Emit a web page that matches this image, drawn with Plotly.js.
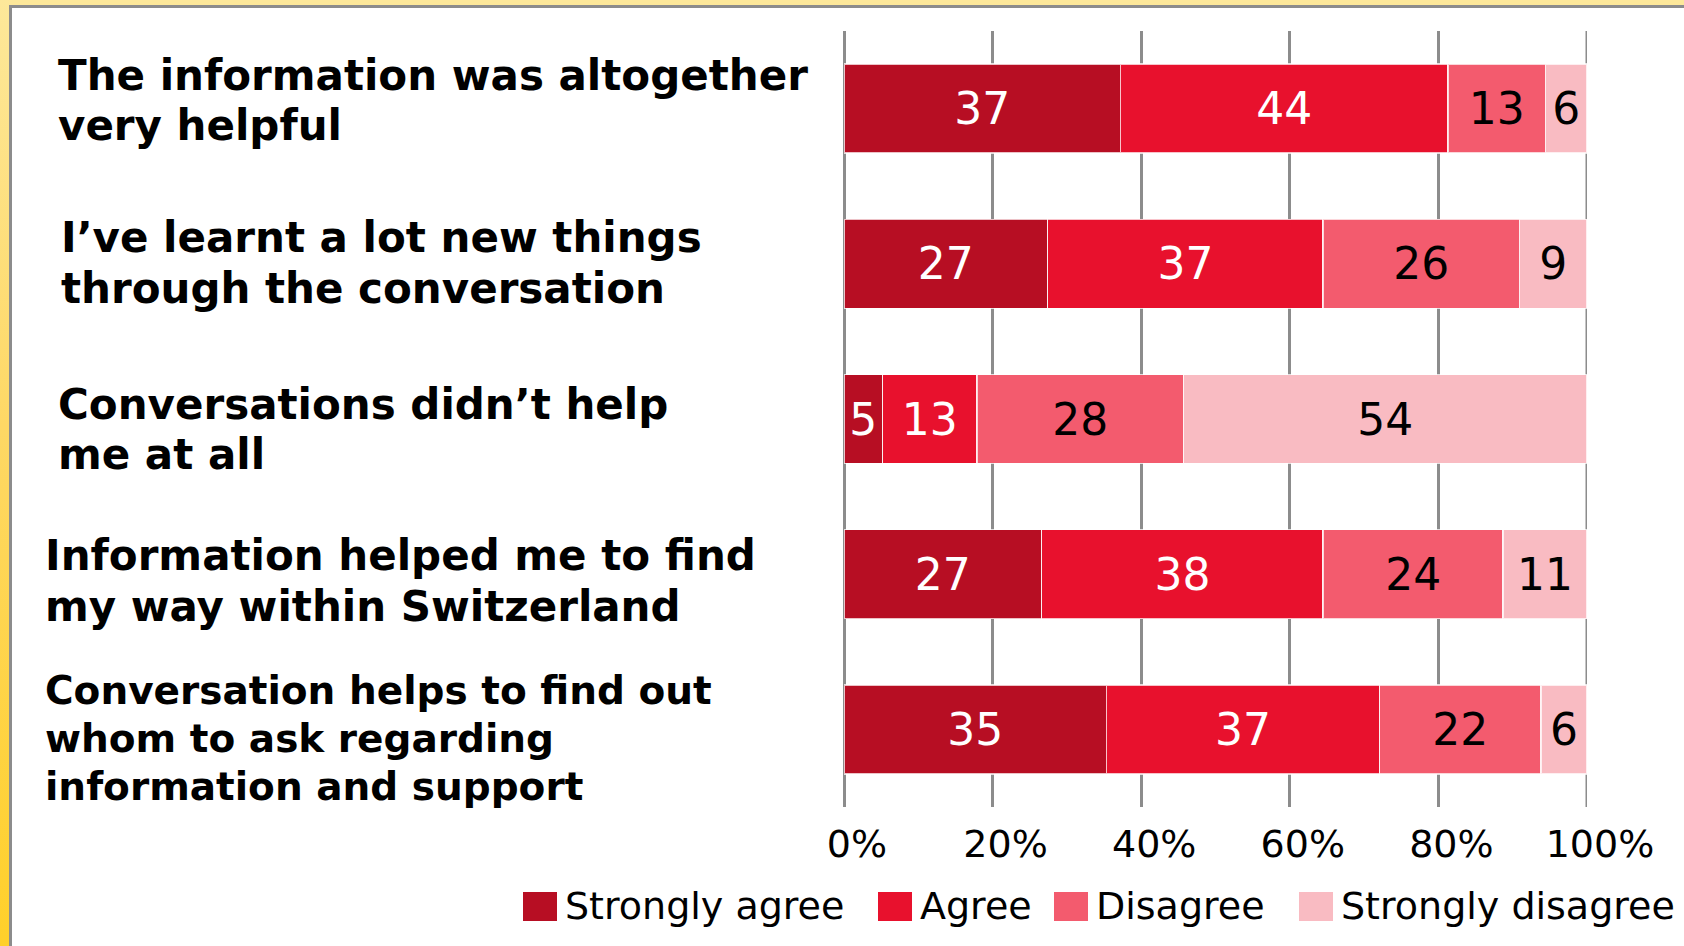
<!DOCTYPE html>
<html><head><meta charset="utf-8">
<script src="https://cdn.plot.ly/plotly-3.0.1.min.js"></script>
<style>
html,body{margin:0;padding:0;background:#fff;}
#wrap{position:relative;width:1684px;height:946px;overflow:hidden;background:#fff;}
#chart{position:absolute;left:0;top:0;width:1684px;height:946px;}
.fr{position:absolute;pointer-events:none;}
</style></head><body>
<div id="wrap">
<div id="chart"></div>
<div class="fr" style="left:0;top:0;width:1684px;height:5px;background:#fde89a"></div>
<div class="fr" style="left:9px;top:5px;width:1675px;height:3px;background:#8c8c8c"></div>
<div class="fr" style="left:0;top:0;width:9px;height:946px;background:linear-gradient(#fde89a,#fed865 45%,#ffd02a)"></div>
<div class="fr" style="left:9px;top:5px;width:3px;height:941px;background:#8c8c8c"></div>
</div>
<script>
// ---- data ----
const categories = [
  'The information was altogether<br>very helpful',
  'I’ve learnt a lot new things<br>through the conversation',
  'Conversations didn’t help<br>me at all',
  'Information helped me to find<br>my way within Switzerland',
  'Conversation helps to find out<br>whom to ask regarding<br>information and support'
];
const seriesNames = ['Strongly agree', 'Agree', 'Disagree', 'Strongly disagree'];
const stronglyAgree    = [37.2, 27.4,  5.2, 26.6, 35.3];
const agree            = [44.1, 37.1, 12.7, 37.9, 36.8];
const disagree         = [13.1, 26.4, 27.8, 24.2, 21.7];
const stronglyDisagree = [ 5.6,  9.1, 54.3, 11.3,  6.2];
const stronglyAgreeLabels    = ['37', '27', '5', '27', '35'];
const agreeLabels            = ['44', '37', '13', '38', '37'];
const disagreeLabels         = ['13', '26', '28', '24', '22'];
const stronglyDisagreeLabels = ['6', '9', '54', '11', '6'];
const tickValues = [0, 20, 40, 60, 80, 100];
const tickLabels = ['0%', '20%', '40%', '60%', '80%', '100%'];

// ---- style ----
const colors = ['#b70e23', '#e8112d', '#f35b6e', '#f9bbc2'];
const textColors = ['#ffffff', '#ffffff', '#000000', '#000000'];
const GRID = '#8c8c8c';
const W = 1684, H = 946;
const M = {l: 844, r: 97, t: 31, b: 139};
const pw = W - M.l - M.r, ph = H - M.t - M.b;
const fx = px => (px - M.l) / pw;
const fy = py => (H - M.b - py) / ph;
const FONT = 'DejaVu Sans, Liberation Sans, Arial, sans-serif';

const values = [stronglyAgree, agree, disagree, stronglyDisagree];
const labels = [stronglyAgreeLabels, agreeLabels, disagreeLabels, stronglyDisagreeLabels];

const traces = seriesNames.map((name, s) => ({
  type: 'bar',
  orientation: 'h',
  name: name,
  y: categories,
  x: values[s],
  text: labels[s],
  texttemplate: '%{text}',
  textposition: 'inside',
  insidetextanchor: 'middle',
  textangle: 0,
  constraintext: 'none',
  insidetextfont: {family: FONT, size: 44, color: textColors[s]},
  marker: {color: colors[s], line: {color: 'rgba(255,255,255,0.75)', width: 1.5}},
  hoverinfo: 'name+x',
  showlegend: false
}));

// category labels (left aligned, drawn per line against the category axis)
const labelLeft  = [56, 59, 56, 43, 43];      // px, left edge of text
const labelNudge = [-8, -1, 10, 7, 8.6];      // px, downward offset of block centre
const labelSize  = [42, 42, 42, 42, 39];
const labelGap   = [50, 51, 50, 51, 48];
const annotations = [];
categories.forEach((cat, i) => {
  const lines = cat.split('<br>');
  const n = lines.length;
  lines.forEach((ln, k) => {
    const off = labelNudge[i] + (k - (n - 1) / 2) * labelGap[i];
    annotations.push({
      xref: 'paper', yref: 'y', x: fx(labelLeft[i]), y: cat,
      xanchor: 'left', yanchor: 'middle', align: 'left',
      yshift: -off, showarrow: false, text: ln,
      font: {family: FONT, size: labelSize[i], color: '#000', weight: 'bold'}
    });
  });
});

// legend (large square keys)
const legendTextX = [566, 921, 1097, 1342];
const legendY0 = 892, legendY1 = 921;
const shapes = [];
seriesNames.forEach((name, s) => {
  shapes.push({
    type: 'rect', xref: 'paper', yref: 'paper',
    x0: fx(legendTextX[s] - 43), x1: fx(legendTextX[s] - 9),
    y0: fy(legendY1), y1: fy(legendY0),
    fillcolor: colors[s], line: {width: 0}
  });
  annotations.push({
    xref: 'paper', yref: 'paper', x: fx(legendTextX[s] - 3), y: fy((legendY0 + legendY1) / 2 - 1),
    xanchor: 'left', yanchor: 'middle', showarrow: false, text: name,
    font: {family: FONT, size: 38, color: '#000'}
  });
});

// gridline at the last tick (Plotly omits grid lines on the range edge)
shapes.push({
  type: 'line', xref: 'x', yref: 'paper',
  x0: tickValues[tickValues.length - 1], x1: tickValues[tickValues.length - 1],
  y0: 0, y1: 1, layer: 'below', line: {color: GRID, width: 3}
});

const layout = {
  width: W, height: H,
  margin: M,
  paper_bgcolor: '#ffffff', plot_bgcolor: '#ffffff',
  barmode: 'stack',
  bargap: 0.427,
  showlegend: false,
  xaxis: {
    range: [0, 100], tickvals: tickValues, ticktext: tickLabels,
    showgrid: true, gridcolor: GRID, gridwidth: 3,
    zeroline: true, zerolinecolor: GRID, zerolinewidth: 3,
    showline: false, ticks: '',
    ticklabelstandoff: 11, ticklabelshift: 13,
    tickfont: {family: FONT, size: 38, color: '#000'},
    fixedrange: true
  },
  yaxis: {
    type: 'category', categoryorder: 'array', categoryarray: categories,
    autorange: 'reversed', showticklabels: false, showgrid: false,
    zeroline: false, showline: false, ticks: '', fixedrange: true
  },
  annotations: annotations,
  shapes: shapes,
  font: {family: FONT}
};

Plotly.newPlot('chart', traces, layout, {displayModeBar: false, staticPlot: true});
</script>
</body></html>
